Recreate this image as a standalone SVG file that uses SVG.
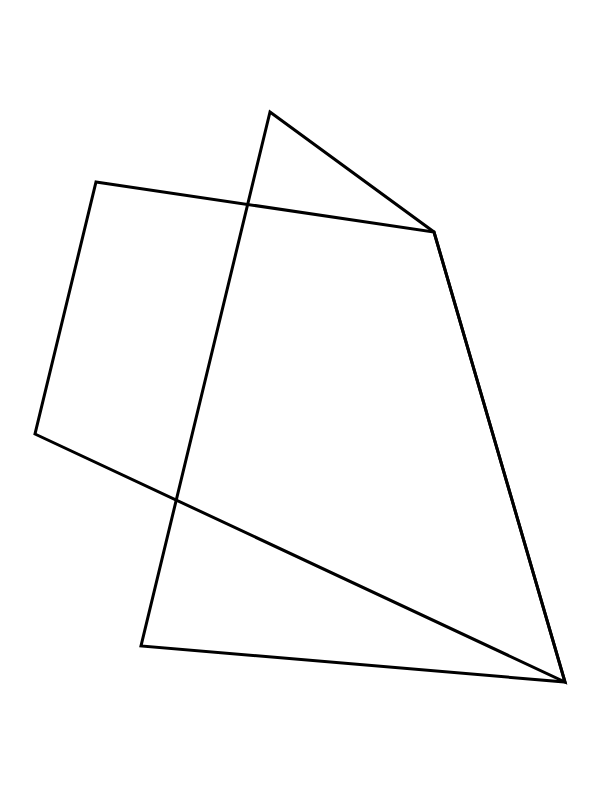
<svg xmlns="http://www.w3.org/2000/svg" width="600" height="800" viewBox="0 0 600 800">
<style>.s{fill:none;stroke:#000;stroke-width:3;stroke-linejoin:miter}</style>
<rect width="600" height="800" fill="#fff"/>
<g id="shapes">
<polygon id="quad" class="s" points="96,182 434,232 565,682 35,434"/>
<polygon id="quad2" class="s" points="270,112 434,232 565,682 141,646"/>
</g>
</svg>
